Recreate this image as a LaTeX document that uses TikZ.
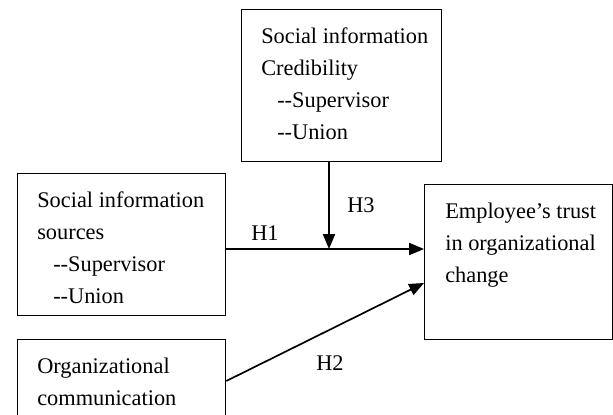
\documentclass[tikz,border=0pt]{standalone}
\usepackage{fontspec}
\setmainfont{Liberation Serif}
\usepackage{tikz}
\usetikzlibrary{arrows.meta}

\newcommand{\facet}[1]{\hspace{0.4cm}-\kern0pt-#1}

\begin{document}
\begin{tikzpicture}[
    box/.style={draw, line width=0.9pt, anchor=north west, inner sep=0pt},
    boxtext/.style={anchor=north west, align=left, inner sep=0pt, font=\fontsize{15.9}{22.76}\selectfont},
    hyp/.style={inner sep=0pt, font=\fontsize{15.9}{22.76}\selectfont},
    link/.style={line width=1.2pt, -{Triangle[length=0.37cm, width=0.3cm]}}
]
    \useasboundingbox (0,0) rectangle (15.325,10.35);

    % Construct boxes
    \node[box, minimum width=5cm, minimum height=3.8cm] (credbox) at (6.025,10.125) {};
    \node[box, minimum width=5.2cm, minimum height=3.55cm] (srcbox) at (0.425,6.025) {};
    \node[box, minimum width=5.2cm, minimum height=2.4cm] (commbox) at (0.425,1.875) {};
    \node[box, minimum width=4.7cm, minimum height=3.875cm] (trustbox) at (10.6,5.75) {};

    \node[boxtext] (credtext) at ([xshift=0.5cm, yshift=-0.47cm]credbox.north west)
        {Social information\\Credibility\\\facet{Supervisor}\\\facet{Union}};
    \node[boxtext] (srctext) at ([xshift=0.5cm, yshift=-0.47cm]srcbox.north west)
        {Social information\\sources\\\facet{Supervisor}\\\facet{Union}};
    \node[boxtext] (commtext) at ([xshift=0.5cm, yshift=-0.47cm]commbox.north west)
        {Organizational\\communication};
    \node[boxtext] (trusttext) at ([xshift=0.525cm, yshift=-0.47cm]trustbox.north west)
        {Employee’s trust\\in organizational\\change};

    % Hypothesised paths
    \coordinate (join) at (8.225,4.125);
    \draw[link] (srcbox.east |- join) -- (trustbox.west |- join);
    \draw[link] (credbox.south -| join) -- (join);
    \draw[link] ([yshift=-1.05cm]commbox.north east) -- ([yshift=-2.475cm]trustbox.north west);

    \node[hyp] (h1) at (6.625,4.525) {H1};
    \node[hyp] (h3) at (9.025,5.225) {H3};
    \node[hyp] (h2) at (8.25,1.275) {H2};
\end{tikzpicture}
\end{document}
